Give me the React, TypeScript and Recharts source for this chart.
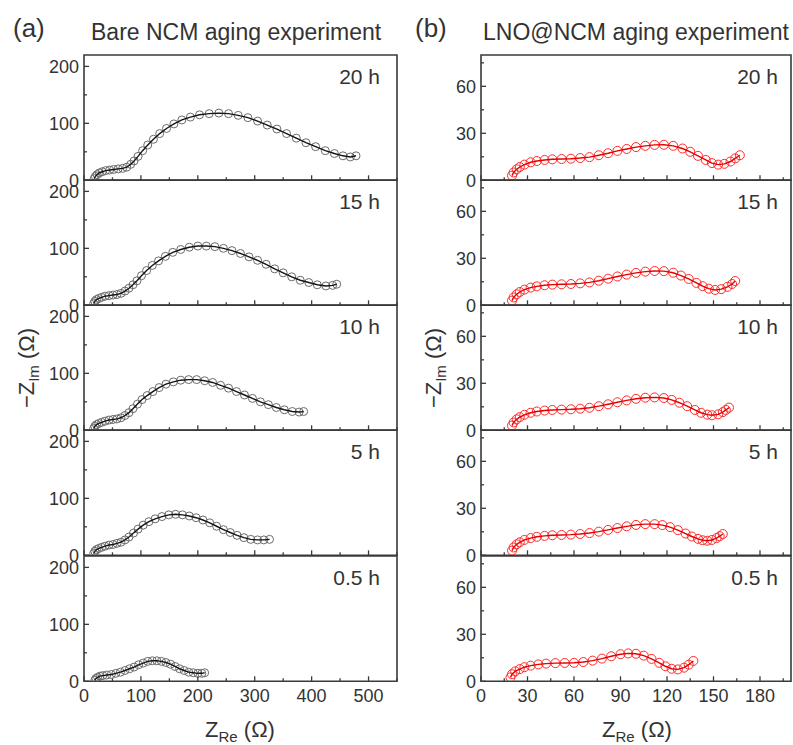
import React from "react";
import { ScatterChart, Scatter, XAxis, YAxis, ReferenceArea } from "recharts";

// Bare NCM, Z_Re / -Z_Im in ohm
const bare20Re = [18, 20, 23, 27, 32, 38, 45, 52, 60, 68, 75, 82, 88, 95, 103, 112, 122, 133, 145, 158, 172, 187, 203, 220, 237, 254, 271, 288, 305, 322, 339, 356, 373, 390, 407, 424, 440, 455, 468, 478];
const bare20Im = [3, 7, 10, 13, 15, 17, 18, 19, 20, 21, 23, 28, 34, 42, 52, 62, 72, 82, 91, 99, 106, 111, 115, 117, 118, 117, 114, 110, 104, 97, 90, 82, 74, 66, 59, 52, 47, 43, 41, 43];
const bare15Re = [17, 19, 22, 26, 31, 37, 44, 51, 58, 65, 72, 79, 86, 93, 101, 110, 120, 131, 143, 156, 170, 185, 200, 215, 230, 245, 260, 275, 290, 305, 320, 335, 350, 365, 380, 395, 410, 425, 437, 444];
const bare15Im = [3, 7, 10, 12, 14, 16, 17, 18, 19, 21, 25, 30, 36, 43, 52, 61, 70, 78, 86, 93, 98, 102, 104, 104, 103, 100, 96, 91, 85, 79, 72, 64, 57, 50, 44, 40, 36, 34, 35, 37];
const bare10Re = [17, 19, 22, 26, 31, 37, 44, 51, 58, 65, 72, 79, 86, 94, 102, 111, 121, 132, 144, 157, 170, 184, 198, 212, 226, 240, 254, 268, 282, 296, 310, 324, 338, 352, 366, 378, 386];
const bare10Im = [3, 7, 10, 12, 14, 16, 18, 19, 20, 22, 26, 31, 38, 46, 54, 61, 68, 75, 81, 85, 88, 89, 89, 87, 84, 79, 74, 68, 62, 56, 50, 45, 40, 36, 33, 32, 33];
const bare5Re = [17, 19, 22, 26, 31, 37, 44, 51, 58, 65, 72, 79, 87, 95, 104, 114, 125, 137, 149, 161, 173, 185, 197, 209, 221, 233, 245, 257, 269, 281, 293, 305, 316, 326];
const bare5Im = [3, 7, 10, 12, 14, 16, 18, 19, 21, 23, 27, 32, 39, 46, 53, 59, 64, 68, 71, 72, 71, 69, 66, 62, 57, 51, 45, 40, 35, 31, 28, 27, 27, 28];
const bare05Re = [19, 21, 24, 28, 33, 40, 48, 56, 64, 72, 80, 88, 96, 104, 112, 120, 128, 136, 144, 152, 160, 168, 176, 184, 192, 200, 207, 212];
const bare05Im = [2, 5, 7, 9, 10, 11, 12, 14, 16, 19, 22, 25, 29, 32, 35, 36, 36, 35, 33, 30, 26, 22, 19, 16, 15, 14, 14, 15];

// LNO@NCM
const lno20Re = [20, 21, 23, 25, 28, 32, 36, 41, 46, 52, 58, 64, 70, 76, 82, 88, 94, 100, 106, 112, 118, 124, 130, 135, 140, 145, 149, 153, 157, 161, 164, 167];
const lno20Im = [3, 5, 7, 8.5, 10, 11.5, 12.3, 13, 13.4, 13.6, 13.8, 14.2, 14.8, 16, 17.3, 18.8, 20, 21.2, 22, 22.6, 22.7, 22, 20.3, 18.2, 15.6, 13, 11, 10, 10.5, 12, 14, 16];
const lno15Re = [20, 21, 23, 25, 28, 32, 36, 41, 46, 52, 58, 64, 70, 76, 82, 88, 94, 100, 106, 112, 118, 124, 129, 134, 139, 143, 147, 151, 155, 159, 162, 164];
const lno15Im = [3, 5, 7, 8.5, 10, 11.3, 12.1, 12.8, 13.2, 13.4, 13.6, 14, 14.6, 15.7, 17, 18.4, 19.6, 20.7, 21.5, 21.9, 21.8, 20.8, 19, 16.8, 14.3, 12.2, 10.6, 9.8, 10.3, 11.8, 13.6, 15.5];
const lno10Re = [20, 21, 23, 25, 28, 32, 36, 41, 46, 52, 58, 64, 70, 76, 82, 88, 94, 100, 106, 112, 118, 123, 128, 133, 138, 142, 146, 149, 153, 156, 158, 160];
const lno10Im = [3, 5, 7, 8.4, 9.9, 11.2, 12, 12.6, 13, 13.2, 13.4, 13.8, 14.4, 15.4, 16.6, 17.9, 19.1, 20.1, 20.8, 21, 20.6, 19.4, 17.6, 15.4, 13, 11.2, 10, 9.6, 10.2, 11.6, 13, 14.5];
const lno5Re = [20, 21, 23, 25, 28, 32, 36, 41, 46, 52, 58, 64, 70, 76, 82, 88, 94, 100, 106, 112, 117, 122, 127, 132, 136, 140, 143, 146, 149, 152, 154, 156];
const lno5Im = [3, 5, 7, 8.3, 9.8, 11, 11.8, 12.4, 12.8, 13, 13.2, 13.6, 14.2, 15.1, 16.2, 17.4, 18.5, 19.4, 19.9, 19.9, 19.3, 18, 16.1, 13.9, 12, 10.5, 9.6, 9.3, 9.8, 11, 12.2, 13.6];
const lno05Re = [19, 20, 22, 25, 28, 32, 37, 42, 48, 54, 60, 66, 72, 78, 84, 90, 95, 100, 105, 110, 115, 119, 123, 127, 131, 134, 137];
const lno05Im = [2.5, 4.5, 6.3, 7.8, 9, 10, 10.8, 11.3, 11.6, 11.7, 11.8, 12.3, 13.2, 14.5, 16, 17.3, 17.8, 17.6, 16.4, 14.3, 11.8, 9.6, 8, 7.6, 8.7, 10.6, 13];

const hours = ["20 h", "15 h", "10 h", "5 h", "0.5 h"];
const bareRe = [bare20Re, bare15Re, bare10Re, bare5Re, bare05Re];
const bareIm = [bare20Im, bare15Im, bare10Im, bare5Im, bare05Im];
const lnoRe = [lno20Re, lno15Re, lno10Re, lno5Re, lno05Re];
const lnoIm = [lno20Im, lno15Im, lno10Im, lno5Im, lno05Im];

const bareXTicks = [0, 50, 100, 150, 200, 250, 300, 350, 400, 450, 500, 550];
const bareYTicks = [0, 50, 100, 150, 200];
const lnoXTicks = [0, 15, 30, 45, 60, 75, 90, 105, 120, 135, 150, 165, 180, 195];
const lnoYTicks = [0, 15, 30, 45, 60, 75];

const FONT = "'Liberation Sans', Arial, Helvetica, sans-serif";
const AXIS = "#3a3a3a";
const TXT = "#333";

const PLOT_TOP = 54.5;
const PLOT_H = 125.3;
const Y_W = 60;
const M_TOP = 12;

const toPts = (xs: number[], ys: number[]) => xs.map((x, i) => ({ x, y: ys[i] }));

function makeXTick(major: number, show: boolean) {
  return (p: any) => {
    const v = p.payload.value;
    const isMajor = v % major === 0;
    return (
      <g>
        <line x1={p.x} x2={p.x} y1={p.y} y2={p.y - (isMajor ? 5 : 3)} stroke={AXIS} strokeWidth={1.3} />
        {show && isMajor && (
          <text x={p.x} y={p.y + 21} textAnchor="middle" fontSize={18} fill={TXT} fontFamily={FONT}>
            {v}
          </text>
        )}
      </g>
    );
  };
}

function makeYTick(major: number) {
  return (p: any) => {
    const v = p.payload.value;
    const isMajor = v % major === 0;
    return (
      <g>
        <line x1={p.x} x2={p.x + (isMajor ? 5 : 3)} y1={p.y} y2={p.y} stroke={AXIS} strokeWidth={1.3} />
        {isMajor && (
          <text x={p.x - 5} y={p.y + 6.5} textAnchor="end" fontSize={18} fill={TXT} fontFamily={FONT}>
            {v}
          </text>
        )}
      </g>
    );
  };
}

type PanelProps = {
  left: number;
  top: number;
  plotW: number;
  xMax: number;
  yMax: number;
  xTicks: number[];
  yTicks: number[];
  xMajor: number;
  yMajor: number;
  last: boolean;
  re: number[];
  im: number[];
  dotColor: string;
  dotR: number;
  lineColor: string;
};

function Panel(props: PanelProps) {
  const { left, top, plotW, xMax, yMax, xTicks, yTicks, xMajor, yMajor, last, re, im, dotColor, dotR, lineColor } = props;
  const xH = last ? 32 : 14;
  const data = toPts(re, im);
  return (
    <div style={{ position: "absolute", left: left - Y_W, top: top - M_TOP }}>
      <ScatterChart width={Y_W + plotW + 3} height={M_TOP + PLOT_H + xH} margin={{ top: M_TOP, right: 3, bottom: 0, left: 0 }}>
        <XAxis
          type="number"
          dataKey="x"
          domain={[0, xMax]}
          ticks={xTicks}
          interval={0}
          height={xH}
          tickSize={0}
          tickMargin={0}
          axisLine={false}
          tick={makeXTick(xMajor, last)}
          allowDataOverflow
        />
        <YAxis
          type="number"
          dataKey="y"
          domain={[0, yMax]}
          ticks={yTicks}
          interval={0}
          width={Y_W}
          tickSize={0}
          tickMargin={0}
          axisLine={false}
          tick={makeYTick(yMajor)}
          allowDataOverflow
        />
        <ReferenceArea x1={0} x2={xMax} y1={0} y2={yMax} fill="none" stroke={AXIS} strokeWidth={1.6} />
        <Scatter
          data={data}
          isAnimationActive={false}
          shape={(s: any) => <circle cx={s.cx} cy={s.cy} r={dotR} fill="none" stroke={dotColor} strokeWidth={1} />}
        />
        <Scatter
          data={data}
          isAnimationActive={false}
          line={{ stroke: lineColor, strokeWidth: 1.4 }}
          shape={() => <g />}
        />
      </ScatterChart>
    </div>
  );
}

export default function App() {
  return (
    <div style={{ position: "absolute", left: 0, top: 0, width: 793, height: 745, background: "#fff", fontFamily: FONT }}>
      {hours.map((h, i) => (
        <Panel
          key={"a" + h}
          left={84}
          top={PLOT_TOP + i * PLOT_H}
          plotW={313}
          xMax={550}
          yMax={220}
          xTicks={bareXTicks}
          yTicks={bareYTicks}
          xMajor={100}
          yMajor={100}
          last={i === hours.length - 1}
          re={bareRe[i]}
          im={bareIm[i]}
          dotColor="#6a6a6a"
          dotR={4}
          lineColor="#151515"
        />
      ))}
      {hours.map((h, i) => (
        <Panel
          key={"b" + h}
          left={481}
          top={PLOT_TOP + i * PLOT_H}
          plotW={310}
          xMax={200}
          yMax={80}
          xTicks={lnoXTicks}
          yTicks={lnoYTicks}
          xMajor={30}
          yMajor={30}
          last={i === hours.length - 1}
          re={lnoRe[i]}
          im={lnoIm[i]}
          dotColor="#ff2a2a"
          dotR={4.5}
          lineColor="#e60000"
        />
      ))}
      <svg width={793} height={745} style={{ position: "absolute", left: 0, top: 0, pointerEvents: "none" }} fontFamily={FONT} fill={TXT}>
        <text x={13} y={36.5} fontSize={26}>(a)</text>
        <text x={91} y={40} fontSize={23}>Bare NCM aging experiment</text>
        <text x={415} y={36.5} fontSize={26}>(b)</text>
        <text x={483} y={40} fontSize={23}>LNO@NCM aging experiment</text>
        {hours.map((h, i) => (
          <g key={"l" + h}>
            <text x={380} y={PLOT_TOP + i * PLOT_H + 29} fontSize={21} textAnchor="end">{h}</text>
            <text x={778} y={PLOT_TOP + i * PLOT_H + 29} fontSize={21} textAnchor="end">{h}</text>
          </g>
        ))}
        <text x={240} y={737} fontSize={22} textAnchor="middle">
          Z<tspan fontSize={15} dy={5}>Re</tspan><tspan dy={-5}> (Ω)</tspan>
        </text>
        <text x={637} y={737} fontSize={22} textAnchor="middle">
          Z<tspan fontSize={15} dy={5}>Re</tspan><tspan dy={-5}> (Ω)</tspan>
        </text>
        <text x={34} y={368} fontSize={22} textAnchor="middle" transform="rotate(-90 34 368)">
          −Z<tspan fontSize={15} dy={5}>Im</tspan><tspan dy={-5}> (Ω)</tspan>
        </text>
        <text x={441} y={368} fontSize={22} textAnchor="middle" transform="rotate(-90 441 368)">
          −Z<tspan fontSize={15} dy={5}>Im</tspan><tspan dy={-5}> (Ω)</tspan>
        </text>
      </svg>
    </div>
  );
}
